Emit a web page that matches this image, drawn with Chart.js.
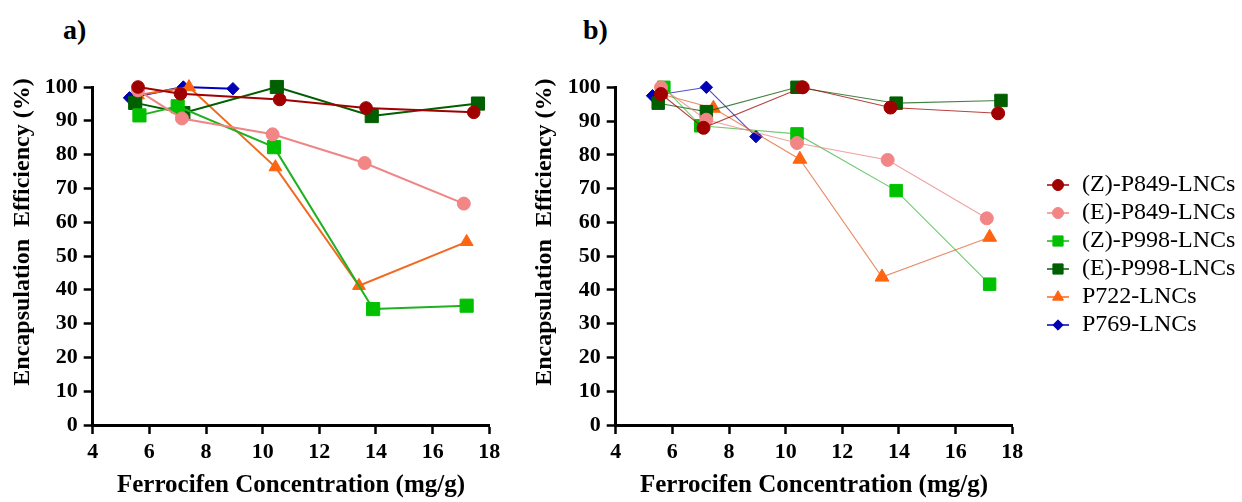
<!DOCTYPE html>
<html>
<head>
<meta charset="utf-8">
<script src="https://cdn.jsdelivr.net/npm/chart.js@4/dist/chart.umd.min.js"></script>
<style>
html,body{margin:0;padding:0;background:#fff;width:1242px;height:502px;overflow:hidden;}
canvas{position:absolute;top:0;}
.lbl{position:absolute;font-family:"Liberation Serif",serif;font-weight:bold;font-size:28px;line-height:28px;color:#000;}
</style>
</head>
<body>
<div class="lbl" style="left:63px;top:16px">a)</div>
<div class="lbl" style="left:583px;top:16px">b)</div>
<canvas id="ca" width="510" height="502" style="left:0px"></canvas>
<canvas id="cb" width="510" height="502" style="left:520px"></canvas>
<canvas id="cl" width="212" height="502" style="left:1030px"></canvas>
<script>
// ---------- data ----------
const seriesNames = ["(Z)-P849-LNCs","(E)-P849-LNCs","(Z)-P998-LNCs","(E)-P998-LNCs","P722-LNCs","P769-LNCs"];
const xTicks = [4,6,8,10,12,14,16,18];
const yTicks = [0,10,20,30,40,50,60,70,80,90,100];
const xTitle = "Ferrocifen Concentration (mg/g)";
const yTitle = "Encapsulation  Efficiency (%)";

// Panel a
const aZ849x = [5.6, 7.1, 10.6, 13.65, 17.45];
const aZ849y = [100, 98, 96.3, 93.8, 92.5];
const aE849x = [5.6, 7.15, 10.35, 13.6, 17.1];
const aE849y = [99, 90.7, 86, 77.5, 65.5];
const aZ998x = [5.65, 7.0, 10.4, 13.9, 17.2];
const aZ998y = [91.6, 94.3, 82.2, 34.3, 35.3];
const aE998x = [5.5, 7.2, 10.5, 13.85, 17.6];
const aE998y = [95.3, 92.3, 100, 91.4, 95.1];
const aP722x = [5.6, 7.4, 10.45, 13.4, 17.2];
const aP722y = [97.6, 100, 76.3, 41.2, 54.2];
const aP769x = [5.3, 7.2, 8.95];
const aP769y = [96.8, 100, 99.5];

// Panel b
const bZ849x = [5.6, 7.1, 10.6, 13.7, 17.5];
const bZ849y = [98, 88, 100, 94, 92.3];
const bE849x = [5.6, 7.2, 10.4, 13.6, 17.1];
const bE849y = [100, 90.4, 83.5, 78.5, 61.2];
const bZ998x = [5.7, 7.0, 10.4, 13.9, 17.2];
const bZ998y = [100, 88.6, 86.2, 69.4, 41.7];
const bE998x = [5.5, 7.2, 10.4, 13.9, 17.6];
const bE998y = [95.3, 92.8, 100, 95.3, 96.1];
const bP722x = [5.6, 7.45, 10.5, 13.4, 17.2];
const bP722y = [98, 93.8, 78.7, 43.8, 55.6];
const bP769x = [5.3, 7.2, 8.95];
const bP769y = [97.5, 100, 85.4];

// ---------- styles ----------
const FF = '"Liberation Serif", "Times New Roman", serif';
const markerColors = ['#A00000', '#F28585', '#00C000', '#005F00', '#FF6410', '#0000B4'];
const lineColorsA = ['#A00000', '#F08585', '#20B020', '#005F00', '#F06A20', '#0000C0'];
const lineColorsB = ['rgba(160,0,0,0.75)', 'rgba(235,130,130,0.75)', 'rgba(40,170,40,0.65)', 'rgba(0,90,0,0.75)', 'rgba(225,100,50,0.75)', 'rgba(0,0,180,0.7)'];
const styles = ['circle','circle','rect','rect','triangle','rectRot'];
const radiiA = [6.3, 6.5, 9.3, 9.3, 7.4, 6.2];
const radiiB = [6.5, 6.5, 8.8, 8.8, 8, 6.2];

function pts(xs, ys){ return xs.map((x,i)=>({x:x, y:ys[i]})); }

function makeDatasets(data, lineColors, lw, radii){
  return data.map((d,i)=>({
    label: seriesNames[i],
    data: pts(d[0], d[1]),
    borderColor: lineColors[i],
    borderWidth: lw,
    backgroundColor: markerColors[i],
    pointBackgroundColor: markerColors[i],
    pointBorderColor: markerColors[i],
    pointBorderWidth: 1,
    pointStyle: styles[i],
    pointRadius: radii[i],
    pointHoverRadius: radii[i],
    tension: 0,
    fill: false,
    clip: false
  }));
}

function tickFont(){ return {family: FF, weight: 'bold', size: 22}; }

function makeScales(yWidth, yTitlePad){
  const grid = {display: true, drawOnChartArea: false, drawTicks: true, tickLength: 9, tickWidth: 2.5, tickColor: '#000', color: '#000'};
  const border = {display: true, color: '#000', width: 3};
  return {
    x: {
      type: 'linear', min: xTicks[0], max: xTicks[xTicks.length-1],
      afterBuildTicks: s => { s.ticks = xTicks.map(v=>({value:v})); },
      ticks: {font: tickFont(), color: '#000', padding: 5, maxRotation: 0, autoSkip: false},
      grid: grid, border: border,
      title: {display: true, text: xTitle, color: '#000', font: {family: FF, weight: 'bold', size: 25}, padding: {top: 0, bottom: 1}},
      afterFit: s => { s.height = 77; }
    },
    y: {
      type: 'linear', min: yTicks[0], max: yTicks[yTicks.length-1],
      afterBuildTicks: s => { s.ticks = yTicks.map(v=>({value:v})); },
      ticks: {font: tickFont(), color: '#000', padding: 6, autoSkip: false},
      grid: grid, border: border,
      title: {display: true, text: '        ' + yTitle, color: '#000', font: {family: FF, weight: 'bold', size: 24}, padding: {top: yTitlePad, bottom: 0}},
      afterFit: s => { s.width = yWidth; }
    }
  };
}

function makeChart(id, datasets, yWidth, yTitlePad, pad){
  return new Chart(document.getElementById(id), {
    type: 'line',
    data: {datasets: datasets},
    options: {
      responsive: false, animation: false, devicePixelRatio: 1,
      layout: {padding: pad},
      plugins: {legend: {display: false}, tooltip: {enabled: false}},
      scales: makeScales(yWidth, yTitlePad)
    }
  });
}

const dataA = [[aZ849x,aZ849y],[aE849x,aE849y],[aZ998x,aZ998y],[aE998x,aE998y],[aP722x,aP722y],[aP769x,aP769y]];
const dataB = [[bZ849x,bZ849y],[bE849x,bE849y],[bZ998x,bZ998y],[bE998x,bE998y],[bP722x,bP722y],[bP769x,bP769y]];

// ---------- legend ----------
const legendRadii = [5.5, 5.5, 7.2, 7.2, 6.3, 5.2];
function legendIcon(i){
  const c = document.createElement('canvas');
  c.width = 24; c.height = 18;
  const ctx = c.getContext('2d');
  ctx.strokeStyle = markerColors[i];
  ctx.lineWidth = 1.5;
  ctx.beginPath(); ctx.moveTo(1, 9); ctx.lineTo(23, 9); ctx.stroke();
  ctx.fillStyle = markerColors[i];
  ctx.strokeStyle = markerColors[i];
  ctx.lineWidth = 1;
  Chart.helpers.drawPoint(ctx, {pointStyle: styles[i], radius: legendRadii[i], rotation: 0, borderWidth: 1}, 12, 9);
  return c;
}

function build(){
  makeChart('ca', makeDatasets(dataA, lineColorsA, 2, radiiA), 92.7, 8.6, {left: 0, top: 87, right: 20.7, bottom: 0});
  makeChart('cb', makeDatasets(dataB, lineColorsB, 1.1, radiiB), 95.7, 10.6, {left: 0, top: 87.3, right: 17.7, bottom: 0});
  new Chart(document.getElementById('cl'), {
    type: 'line',
    data: {datasets: seriesNames.map((n,i)=>({label: n, data: [], borderColor: markerColors[i], backgroundColor: markerColors[i]}))},
    options: {
      responsive: false, animation: false, devicePixelRatio: 1,
      layout: {padding: {left: 12, top: 169, right: 0, bottom: 0}},
      scales: {x: {display: false}, y: {display: false}},
      plugins: {
        tooltip: {enabled: false},
        legend: {
          display: true, position: 'top', align: 'start',
          labels: {
            usePointStyle: true, pointStyleWidth: 24, boxHeight: 24, padding: 4,
            color: '#000', font: {family: FF, size: 24},
            generateLabels: () => seriesNames.map((n,i)=>({
              text: n, pointStyle: legendIcon(i), fillStyle: markerColors[i], strokeStyle: markerColors[i],
              lineWidth: 0, hidden: false, datasetIndex: i, fontColor: '#000'
            }))
          }
        }
      }
    }
  });
}

build();
</script>
</body>
</html>
